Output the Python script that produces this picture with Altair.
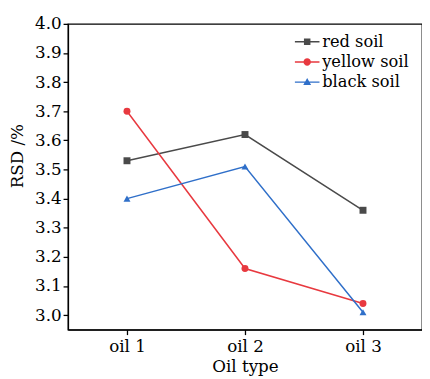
import altair as alt
import pandas as pd

oil = ["oil 1", "oil 2", "oil 3"]
series = ["red soil", "yellow soil", "black soil"]
red_soil = [3.53, 3.62, 3.36]
yellow_soil = [3.70, 3.16, 3.04]
black_soil = [3.40, 3.51, 3.01]
colors = ["#4a4a4a", "#e8393f", "#2f6fc9"]
y_ticks = [3.0, 3.1, 3.2, 3.3, 3.4, 3.5, 3.6, 3.7, 3.8, 3.9, 4.0]

rows = []
for name, vals in zip(series, [red_soil, yellow_soil, black_soil]):
    for o, v in zip(oil, vals):
        rows.append({"oil": o, "series": name, "rsd": v})
df = pd.DataFrame(rows)

FONT = "DejaVu Serif"

# legend symbols: line segment + marker (filled paths)
legend_paths = [
    "M-2.5,-0.15H2.5V0.15H-2.5Z M-0.66,-0.66H0.66V0.66H-0.66Z",
    "M-2.5,-0.15H2.5V0.15H-2.5Z M-0.75,0A0.75,0.75 0 1,1 0.75,0A0.75,0.75 0 1,1 -0.75,0Z",
    "M-2.5,-0.15H2.5V0.15H-2.5Z M0,-0.85L0.8,0.6L-0.8,0.6Z",
]

color_scale = alt.Scale(domain=series, range=colors)

x = alt.X(
    "oil:N", sort=oil,
    scale=alt.Scale(type="point", padding=0.5),
    axis=alt.Axis(title="Oil type", labelAngle=0, labelPadding=4, titlePadding=5),
)
y = alt.Y(
    "rsd:Q",
    scale=alt.Scale(domain=[2.95, 4.0], nice=False, zero=False),
    axis=alt.Axis(title="RSD /%", values=y_ticks, format=".1f", labelPadding=2,
                  titleAngle=270, titleAlign="center", titleBaseline="bottom",
                  titleX=-42, titleY=134),
)

base = alt.Chart(df)

lines = base.mark_line(strokeWidth=1.5).encode(
    x=x, y=y,
    color=alt.Color("series:N", scale=color_scale, legend=None),
)

points = base.mark_point(filled=True, size=50, opacity=1).encode(
    x=x, y=y,
    color=alt.Color("series:N", scale=color_scale, legend=None),
    shape=alt.Shape("series:N",
                    scale=alt.Scale(domain=series, range=["square", "circle", "triangle-up"]),
                    legend=None),
)

leg = alt.Legend(
    title=None, orient="none", legendX=235, legendY=10,
    labelFont=FONT, labelFontSize=16.5, labelColor="black",
    symbolSize=100, labelOffset=7, rowPadding=3.5, symbolStrokeWidth=0,
    symbolFillColor=alt.ExprRef("scale('color', datum.value)"),
)

legend_layer = base.transform_filter("false").mark_point(filled=True, opacity=1).encode(
    x=x, y=y,
    color=alt.Color("series:N", scale=color_scale, legend=None),
    shape=alt.Shape("series:N", scale=alt.Scale(domain=series, range=legend_paths), legend=leg),
)

chart = (
    alt.layer(lines, points, legend_layer)
    .resolve_scale(shape="independent")
    .properties(
        width=360, height=311,
        autosize=alt.AutoSizeParams(type="none"),
        padding={"left": 61, "top": 13, "right": 0, "bottom": 46},
    )
    .configure_view(stroke="black", strokeWidth=1.3)
    .configure_axis(
        grid=False, domainColor="black", domainWidth=1.3,
        tickColor="black", tickSize=5, tickWidth=1.3,
        labelFont=FONT, labelFontSize=17, labelColor="black",
        titleFont=FONT, titleFontSize=17, titleFontWeight="normal", titleColor="black",
    )
)

chart.save("out.html", embed_options={"renderer": "svg", "actions": False})
